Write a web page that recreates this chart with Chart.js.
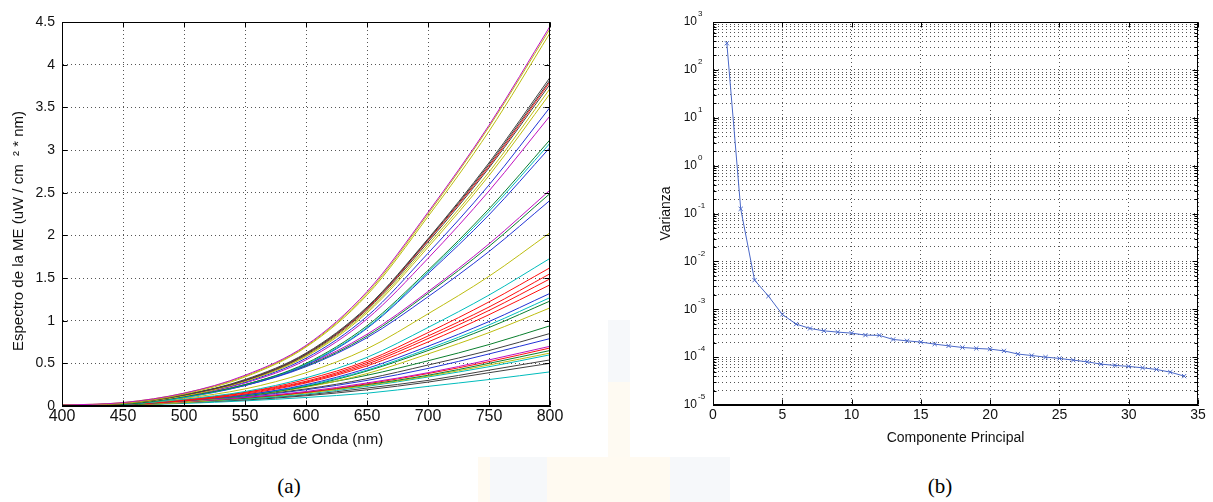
<!DOCTYPE html>
<html>
<head>
<meta charset="utf-8">
<script src="https://cdn.jsdelivr.net/npm/chart.js@4.4.1/dist/chart.umd.min.js"></script>
<style>
html, body { margin: 0; padding: 0; background: #fff; }
#page { position: relative; width: 1213px; height: 502px; overflow: hidden; }
.box { position: absolute; top: 0; }
.wm { position: absolute; }
.cap { position: absolute; font-family: "Liberation Serif", "Times New Roman", serif; font-size: 21px; color: #000; transform: translate(-50%, -50%); }
</style>
</head>
<body>
<div id="page">
  <!-- faint watermark behind the figure -->
  <div class="wm" style="left:608px;top:320px;width:22px;height:137px;background:#fefaf2"></div>
  <div class="wm" style="left:608px;top:320px;width:22px;height:62px;background:#f6f8fa"></div>
  <div class="wm" style="left:478px;top:457px;width:252px;height:45px;background:#fffaf1"></div>
  <div class="wm" style="left:490px;top:457px;width:57px;height:45px;background:#f6f8fa"></div>
  <div class="wm" style="left:670px;top:457px;width:60px;height:45px;background:#f6f8fa"></div>

  <div class="box" style="left:0px"><canvas id="specChart" width="600" height="460"></canvas></div>
  <div class="box" style="left:620px"><canvas id="varChart" width="593" height="460"></canvas></div>
  <div class="cap" style="left:289px;top:486px">(a)</div>
  <div class="cap" style="left:940px;top:486px">(b)</div>
</div>
<script>
// (a) spectra, read at every 50 nm
const wavelengths = [400, 450, 500, 550, 600, 650, 700, 750, 800];
const spectraColors = ['m','y','y','k','k','r','k','y','y','b','m','g','c','b','m','g','b','y','c',
                       'r','r','r','r','b','c','g','y','g','k','b','m','r','g','y','c','k','k','c'];
const spectraValues = [
  [0.01, 0.04, 0.15, 0.36, 0.71, 1.34, 2.27, 3.29, 4.45],
  [0.01, 0.04, 0.15, 0.35, 0.70, 1.32, 2.25, 3.27, 4.42],
  [0.01, 0.03, 0.14, 0.34, 0.69, 1.30, 2.22, 3.22, 4.37],
  [0.01, 0.03, 0.13, 0.31, 0.62, 1.16, 1.96, 2.85, 3.85],
  [0.01, 0.03, 0.13, 0.30, 0.61, 1.15, 1.95, 2.83, 3.82],
  [0.01, 0.03, 0.13, 0.30, 0.61, 1.14, 1.94, 2.81, 3.80],
  [0.01, 0.03, 0.13, 0.30, 0.60, 1.13, 1.92, 2.79, 3.77],
  [0.01, 0.03, 0.12, 0.29, 0.59, 1.11, 1.89, 2.74, 3.72],
  [0.01, 0.03, 0.12, 0.29, 0.58, 1.09, 1.86, 2.70, 3.66],
  [0.01, 0.03, 0.12, 0.28, 0.56, 1.05, 1.79, 2.59, 3.50],
  [0.01, 0.03, 0.12, 0.27, 0.54, 1.02, 1.73, 2.52, 3.40],
  [0.01, 0.02, 0.11, 0.25, 0.50, 0.94, 1.59, 2.31, 3.12],
  [0.01, 0.02, 0.10, 0.25, 0.49, 0.92, 1.57, 2.28, 3.08],
  [0.01, 0.02, 0.10, 0.24, 0.48, 0.91, 1.55, 2.24, 3.03],
  [0.01, 0.03, 0.11, 0.25, 0.48, 0.84, 1.34, 1.90, 2.53],
  [0.01, 0.03, 0.11, 0.25, 0.47, 0.82, 1.32, 1.87, 2.49],
  [0.01, 0.03, 0.11, 0.24, 0.46, 0.80, 1.28, 1.81, 2.41],
  [0.01, 0.02, 0.09, 0.20, 0.39, 0.67, 1.08, 1.52, 2.03],
  [0.00, 0.02, 0.08, 0.17, 0.33, 0.57, 0.92, 1.30, 1.73],
  [0.00, 0.02, 0.07, 0.16, 0.31, 0.53, 0.86, 1.22, 1.62],
  [0.00, 0.02, 0.07, 0.16, 0.29, 0.51, 0.82, 1.16, 1.55],
  [0.00, 0.02, 0.07, 0.15, 0.28, 0.49, 0.79, 1.12, 1.49],
  [0.00, 0.02, 0.06, 0.14, 0.27, 0.47, 0.75, 1.07, 1.42],
  [0.00, 0.02, 0.06, 0.13, 0.25, 0.44, 0.70, 0.99, 1.32],
  [0.00, 0.02, 0.06, 0.13, 0.24, 0.42, 0.67, 0.95, 1.27],
  [0.00, 0.01, 0.06, 0.12, 0.23, 0.41, 0.65, 0.92, 1.23],
  [0.00, 0.01, 0.05, 0.12, 0.22, 0.38, 0.61, 0.86, 1.15],
  [0.00, 0.02, 0.07, 0.13, 0.23, 0.36, 0.53, 0.72, 0.94],
  [0.00, 0.02, 0.06, 0.12, 0.20, 0.32, 0.48, 0.65, 0.85],
  [0.00, 0.02, 0.06, 0.11, 0.19, 0.30, 0.44, 0.61, 0.79],
  [0.00, 0.01, 0.05, 0.10, 0.17, 0.27, 0.39, 0.54, 0.70],
  [0.00, 0.01, 0.05, 0.10, 0.16, 0.26, 0.38, 0.52, 0.68],
  [0.00, 0.01, 0.05, 0.09, 0.16, 0.25, 0.36, 0.50, 0.65],
  [0.00, 0.01, 0.04, 0.09, 0.15, 0.24, 0.35, 0.48, 0.62],
  [0.00, 0.01, 0.04, 0.08, 0.14, 0.23, 0.34, 0.46, 0.60],
  [0.00, 0.01, 0.04, 0.08, 0.13, 0.21, 0.30, 0.42, 0.54],
  [0.00, 0.01, 0.04, 0.07, 0.12, 0.19, 0.28, 0.39, 0.50],
  [0.00, 0.01, 0.03, 0.06, 0.10, 0.15, 0.23, 0.31, 0.40]
];

// (b) variance per principal component
const componentes = [1,2,3,4,5,6,7,8,9,10,11,12,13,14,15,16,17,18,19,20,21,22,23,24,25,26,27,28,29,30,31,32,33,34];
const varianza = [360, 0.125, 0.00405, 0.00188, 0.00078, 0.00049, 0.000397, 0.000354, 0.000333, 0.000317,
                  0.000288, 0.000285, 0.000234, 0.000219, 0.000206, 0.000187, 0.000172, 0.000159, 0.000152,
                  0.000147, 0.000135, 0.000116, 0.000108, 0.000100, 0.000094, 0.0000865, 0.0000798,
                  0.0000714, 0.0000671, 0.000064, 0.0000598, 0.0000553, 0.0000486, 0.0000401];
const varianzaExponents = [-5, -4, -3, -2, -1, 0, 1, 2, 3];

const palette = { b: '#2233d6', g: '#0a7f2e', r: '#ff1010', c: '#00bcbc', m: '#bf10bf', y: '#bdbd10', k: '#414141' };
const gridColor = '#555';
const textColor = '#111';
const fontFamily = '"Liberation Sans", Arial, sans-serif';

Chart.defaults.font.family = fontFamily;
Chart.defaults.color = textColor;

// minor log grid: 1..9 x 10^e
const logTicks = [];
varianzaExponents.forEach(e => {
    const steps = e === 3 ? [1] : [1,2,3,4,5,6,7,8,9];
    steps.forEach(m => logTicks.push(m * Math.pow(10, e)));
});

// box around the plot with inward tick marks, like the original figure
const framePlugin = {
    id: 'frame',
    afterDatasetsDraw(chart) {
        const {ctx, chartArea: a, scales} = chart;
        const L = Math.round(a.left) + 0.5, R = Math.round(a.right) - 0.5;
        const T = Math.round(a.top) + 0.5, B = Math.round(a.bottom) - 0.5;
        ctx.save();
        ctx.strokeStyle = '#000';
        ctx.lineWidth = 1;
        ctx.beginPath();
        scales.x.ticks.forEach(t => {
            const px = Math.round(scales.x.getPixelForValue(t.value)) + 0.5;
            ctx.moveTo(px, B); ctx.lineTo(px, B - 5);
            ctx.moveTo(px, T); ctx.lineTo(px, T + 5);
        });
        scales.y.ticks.forEach(t => {
            let len = 5;
            if (scales.y.type === 'logarithmic') {
                const l = Math.log10(t.value);
                len = Math.abs(l - Math.round(l)) < 1e-9 ? 5 : 3;
            }
            const py = Math.round(scales.y.getPixelForValue(t.value)) + 0.5;
            ctx.moveTo(L, py); ctx.lineTo(L + len, py);
            ctx.moveTo(R, py); ctx.lineTo(R - len, py);
        });
        ctx.stroke();
        ctx.strokeRect(L, T, R - L, B - T);
        ctx.restore();
    }
};

const specTitlePlugin = {
    id: 'specTitle',
    afterDraw(chart) {
        const ctx = chart.ctx;
        ctx.save();
        ctx.translate(19, 231);
        ctx.rotate(-Math.PI / 2);
        ctx.font = '15px ' + fontFamily;
        ctx.fillStyle = textColor;
        ctx.textAlign = 'center';
        ctx.textBaseline = 'middle';
        ctx.fillText('Espectro de la ME (uW / cm  \u00B2 * nm)', 0, 0);
        ctx.restore();
    }
};

const logLabelPlugin = {
    id: 'logLabels',
    afterDraw(chart) {
        const {ctx, scales} = chart;
        ctx.save();
        ctx.fillStyle = textColor;
        ctx.textBaseline = 'middle';
        varianzaExponents.forEach(e => {
            const y = scales.y.getPixelForValue(Math.pow(10, e));
            ctx.font = '12px ' + fontFamily;
            ctx.textAlign = 'right';
            ctx.fillText('10', 77, y);
            ctx.font = '8px ' + fontFamily;
            ctx.textAlign = 'left';
            ctx.fillText(String(e), 78, y - 8);
        });
        ctx.restore();
    }
};

new Chart(document.getElementById('specChart'), {
    type: 'line',
    data: {
        datasets: spectraValues.map((vals, i) => ({
            data: vals.map((v, j) => ({ x: wavelengths[j], y: v })),
            borderColor: palette[spectraColors[i]],
            borderWidth: 1,
            pointRadius: 0,
            cubicInterpolationMode: 'monotone',
            fill: false
        }))
    },
    options: {
        responsive: false,
        animation: false,
        layout: { padding: { top: 22, right: 50, left: 0, bottom: 0 } },
        plugins: { legend: { display: false }, tooltip: { enabled: false } },
        scales: {
            x: {
                type: 'linear', min: 400, max: 800,
                afterFit: s => { s.height = 54; },
                ticks: { stepSize: 50, padding: 1, font: { size: 16 }, maxRotation: 0 },
                grid: { color: gridColor, drawTicks: false },
                border: { display: true, color: '#000', dash: [1, 3] },
                title: { display: true, text: 'Longitud de Onda (nm)', font: { size: 15 }, padding: { top: 0, bottom: 11 } }
            },
            y: {
                min: 0, max: 4.5,
                afterFit: s => { s.width = 62; },
                ticks: { stepSize: 0.5, padding: 7, font: { size: 14 }, callback: v => String(Math.round(v * 10) / 10) },
                grid: { color: gridColor, drawTicks: false },
                border: { display: true, color: '#000', dash: [1, 3] }
            }
        }
    },
    plugins: [framePlugin, specTitlePlugin]
});

new Chart(document.getElementById('varChart'), {
    type: 'line',
    data: {
        datasets: [{
            data: componentes.map((c, i) => ({ x: c, y: varianza[i] })),
            borderColor: '#4a68c8',
            borderWidth: 1,
            pointStyle: 'crossRot',
            pointRadius: 3,
            pointBorderColor: '#4a68c8',
            pointBorderWidth: 1,
            tension: 0,
            fill: false
        }]
    },
    options: {
        responsive: false,
        animation: false,
        layout: { padding: { top: 22, right: 15, left: 0, bottom: 0 } },
        plugins: { legend: { display: false }, tooltip: { enabled: false } },
        scales: {
            x: {
                type: 'linear', min: 0, max: 35,
                afterFit: s => { s.height = 55; },
                ticks: { stepSize: 5, padding: 2, font: { size: 14 }, maxRotation: 0 },
                grid: { color: gridColor, drawTicks: false },
                border: { display: true, color: '#000', dash: [1, 3] },
                title: { display: true, text: 'Componente Principal', font: { size: 14 }, padding: { top: 0, bottom: 13 } }
            },
            y: {
                type: 'logarithmic', min: 1e-5, max: 1e3,
                afterFit: s => { s.width = 93; },
                afterBuildTicks: s => { s.ticks = logTicks.map(v => ({ value: v })); },
                ticks: { display: false },
                grid: { color: gridColor, drawTicks: false },
                border: { display: true, color: '#000', dash: [1, 3] },
                title: { display: true, text: 'Varianza', font: { size: 14 }, padding: { top: 38, bottom: 0 } }
            }
        }
    },
    plugins: [framePlugin, logLabelPlugin]
});
</script>
</body>
</html>
